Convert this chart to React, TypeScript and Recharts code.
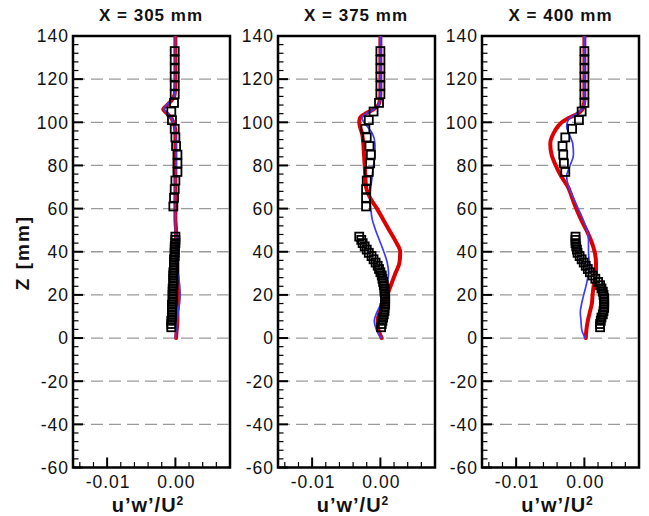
import { ScatterChart, Scatter, XAxis, YAxis, ReferenceLine, ReferenceArea } from "recharts";

// model profiles, sampled at the same heights (mm)
const lineZ = [0, 4, 8, 12, 16, 20, 25, 30, 35, 40, 45, 50, 55, 60, 65, 70, 75, 80, 85, 90, 95, 98, 100, 102, 104, 106, 108, 110, 113, 120, 130, 140];

const red305 = [0.0001, 0.0002, 0.0003, 0.0003, 0.0004, 0.0004, 0.0004, 0.0003, 0.0003, 0.0002, 0.0001, 0.0001,
  0.0, 0.0, 0.0, 0.0, 0.0, 0.0, 0.0, 0.0, 0.0,
  -0.0001, -0.0003, -0.0006, -0.0012, -0.0018, -0.0012, -0.0006, -0.0001, 0.0, 0.0, 0.0];
const blue305 = [0.0, 0.0001, 0.0003, 0.0004, 0.0006, 0.0007, 0.0006, 0.0004, 0.0002, 0.0001, 0.0001, 0.0,
  0.0, 0.0, 0.0, 0.0, 0.0, 0.0001, 0.0001, 0.0001, 0.0,
  -0.0001, -0.0003, -0.0006, -0.0011, -0.0017, -0.0013, -0.0007, -0.0001, 0.0, 0.0, 0.0];

const red375 = [0.0002, -0.0003, -0.0004, -0.0001, 0.0005, 0.001, 0.0016, 0.0022, 0.0028, 0.0029, 0.0022, 0.0013,
  0.0004, -0.0005, -0.0015, -0.0021, -0.0022, -0.0023, -0.0024, -0.0025, -0.0027,
  -0.003, -0.0031, -0.003, -0.0022, -0.001, -0.0003, -0.0001, 0.0, 0.0, 0.0, 0.0];
const blue375 = [0.0001, -0.0006, -0.0009, -0.0005, 0.0001, 0.0006, 0.001, 0.0012, 0.001, 0.0005, -0.0001, -0.0007,
  -0.0012, -0.0014, -0.0015, -0.0014, -0.0012, -0.001, -0.0008, -0.0008, -0.0012,
  -0.0019, -0.0024, -0.0027, -0.0021, -0.001, -0.0003, -0.0001, 0.0, 0.0, 0.0, 0.0];

const red400 = [0.0002, 0.0003, 0.0005, 0.0008, 0.0011, 0.0012, 0.0014, 0.0017, 0.0017, 0.0015, 0.001, 0.0003,
  -0.0005, -0.0012, -0.0018, -0.0024, -0.0034, -0.0042, -0.0048, -0.005, -0.0045,
  -0.0039, -0.0033, -0.0023, -0.001, -0.0003, -0.0001, 0.0, 0.0, 0.0, 0.0, 0.0];
const blue400 = [0.0001, -0.0004, -0.0005, -0.0006, -0.0004, -0.0001, 0.0003, 0.0006, 0.0007, 0.0006, 0.0006, 0.0004,
  -0.0002, -0.0009, -0.0016, -0.0023, -0.0026, -0.0021, -0.0016, -0.0017, -0.0023,
  -0.0026, -0.0025, -0.0021, -0.0011, -0.0004, -0.0001, 0.0, 0.0, 0.0, 0.0, 0.0];

// measurements (squares)
const upperZ = [61, 65, 69, 73, 77, 81, 85, 89, 93, 97, 101, 105, 109, 113, 117, 121, 125, 129, 133];
const upperZ400 = [77, 81, 85, 89, 93, 97, 101, 105, 109, 113, 117, 121, 125, 129, 133];
const lowerZ = [5, 6.5, 8, 9.5, 11, 12.5, 14, 15.5, 17, 18.5, 20, 21.5, 23, 24.5, 26, 27.5, 29, 30.5, 32, 33.5, 35, 36.5, 38, 39.5, 41, 42.5, 44, 45.5, 47];

const exp305Upper = [-0.0003, -0.0002, -0.0001, 0.0, 0.0003, 0.0003, 0.0003, 0.0001, 0.0, -0.0001, -0.0005, -0.0006, -0.0002, -0.0001, -0.0001, -0.0001, -0.0001, -0.0001, -0.0001];
const exp375Upper = [-0.0021, -0.0021, -0.0021, -0.002, -0.0017, -0.0015, -0.0014, -0.0016, -0.002, -0.0022, -0.0017, -0.001, -0.0002, 0.0, 0.0, 0.0, 0.0, 0.0, 0.0];
const exp400Upper = [-0.0028, -0.003, -0.0031, -0.0032, -0.0028, -0.0018, -0.0008, -0.0004, 0.0, 0.0, 0.0, 0.0, 0.0, 0.0, 0.0];

const exp305Lower = [-0.0006, -0.0006, -0.0006, -0.0005, -0.0005, -0.0005, -0.0005, -0.0005, -0.0004, -0.0004, -0.0004, -0.0004, -0.0004, -0.0003, -0.0003,
  -0.0003, -0.0003, -0.0003, -0.0002, -0.0002, -0.0002, -0.0002, -0.0001, -0.0001, -0.0001, -0.0001, 0.0, 0.0, 0.0];
const exp375Lower = [0.0001, 0.0002, 0.0003, 0.0004, 0.0005, 0.0006, 0.0006, 0.0007, 0.0007, 0.0007, 0.0007, 0.0006, 0.0006, 0.0005, 0.0004,
  0.0003, 0.0002, 0.0, -0.0002, -0.0004, -0.0007, -0.001, -0.0013, -0.0017, -0.002, -0.0023, -0.0026, -0.0028, -0.0031];
const exp400Lower = [0.0023, 0.0023, 0.0024, 0.0025, 0.0027, 0.0028, 0.0029, 0.0029, 0.0029, 0.0029, 0.0028, 0.0027, 0.0025, 0.0023, 0.002,
  0.0016, 0.0012, 0.0008, 0.0005, 0.0002, -0.0001, -0.0004, -0.0007, -0.001, -0.0011, -0.0012, -0.0013, -0.0013, -0.0013];

const titles = ["X = 305 mm", "X = 375 mm", "X = 400 mm"];
const gridY = [-40, -20, 0, 20, 40, 60, 80, 100, 120];
const xLabels: Record<number, string> = { [-10]: "-0.01", 0: "0.00" };

const yTicks = Array.from({ length: 51 }, (_, i) => -60 + i * 4);
const xTicks = Array.from({ length: 11 }, (_, i) => (-14 + i * 2) / 1000);

const X_DOMAIN = [-0.015, 0.008];
const Y_DOMAIN = [-60, 140];
const AXIS_W = 70;
const PLOT_W = 157;
const PLOT_TOP = 36;
const PLOT_BOTTOM = 467.5;
const H = 516;
const FONT = "'Liberation Sans', Arial, Helvetica, sans-serif";
const RED = "#dd0000";
const BLUE = "#3c3cff";

const pts = (zs: number[], xs: number[]) => zs.map((z, i) => ({ x: xs[i], z }));

const panels = [
  { left: 72.5, red: red305, blue: blue305, exp: [...pts(lowerZ, exp305Lower), ...pts(upperZ, exp305Upper)] },
  { left: 277.5, red: red375, blue: blue375, exp: [...pts(lowerZ, exp375Lower), ...pts(upperZ, exp375Upper)] },
  { left: 482, red: red400, blue: blue400, exp: [...pts(lowerZ, exp400Lower), ...pts(upperZ400, exp400Upper)] },
];

function YTick(props: any) {
  const { x, y, payload } = props;
  const v = payload.value;
  const major = v % 20 === 0;
  const edge = x + 4;
  return (
    <g>
      <line x1={edge} x2={edge + (major ? 10 : 5.5)} y1={y} y2={y} stroke="#000" strokeWidth={major ? 2 : 1.2} />
      {major && (
        <text x={x} y={y} dy="0.36em" textAnchor="end" fontFamily={FONT} fontSize={17.5} letterSpacing={1} fill="#111">
          {v}
        </text>
      )}
    </g>
  );
}

function XTick(props: any) {
  const { x, y, payload } = props;
  const k = Math.round(payload.value * 1000);
  const major = k % 10 === 0;
  const edge = y - 4;
  return (
    <g>
      <line x1={x} x2={x} y1={edge} y2={edge - (major ? 10 : 5.5)} stroke="#000" strokeWidth={major ? 2 : 1.2} />
      {major && (
        <text x={x + 1} y={edge + 20.5} textAnchor="middle" fontFamily={FONT} fontSize={17.5} letterSpacing={1} fill="#111">
          {xLabels[k]}
        </text>
      )}
    </g>
  );
}

const noDot = () => <g />;
const square = (p: any) => (
  <rect x={p.cx - 4} y={p.cy - 4} width={8} height={8} fill="none" stroke="#000" strokeWidth={1.8} />
);

function Panel({ left, red, blue, exp }: any) {
  return (
    <div style={{ position: "absolute", left: left - AXIS_W, top: 0 }}>
      <ScatterChart
        width={AXIS_W + PLOT_W + 6}
        height={H}
        margin={{ top: PLOT_TOP, right: 6, bottom: H - PLOT_BOTTOM - 30, left: 0 }}
      >
        <XAxis
          type="number"
          dataKey="x"
          domain={X_DOMAIN}
          ticks={xTicks}
          interval={0}
          allowDataOverflow
          height={30}
          tickSize={0}
          tickMargin={4}
          axisLine={false}
          tickLine={false}
          tick={(p: any) => <XTick {...p} />}
        />
        <YAxis
          type="number"
          dataKey="z"
          domain={Y_DOMAIN}
          ticks={yTicks}
          interval={0}
          allowDataOverflow
          width={AXIS_W}
          tickSize={0}
          tickMargin={4}
          axisLine={false}
          tickLine={false}
          tick={(p: any) => <YTick {...p} />}
        />
        {gridY.map((v) => (
          <ReferenceLine key={v} y={v} stroke="#9a9a9a" strokeWidth={1.3} strokeDasharray="12 6" />
        ))}
        <Scatter
          data={pts(lineZ, red)}
          shape={noDot}
          line={{ stroke: RED, strokeWidth: 4, strokeLinejoin: "round", strokeLinecap: "round" }}
          lineJointType="monotoneY"
          isAnimationActive={false}
        />
        <Scatter
          data={pts(lineZ, blue)}
          shape={noDot}
          line={{ stroke: BLUE, strokeWidth: 1.7, strokeLinejoin: "round", strokeLinecap: "round" }}
          lineJointType="monotoneY"
          isAnimationActive={false}
        />
        <Scatter data={exp} shape={square} isAnimationActive={false} />
        <ReferenceArea
          x1={X_DOMAIN[0]}
          x2={X_DOMAIN[1]}
          y1={Y_DOMAIN[0]}
          y2={Y_DOMAIN[1]}
          fill="none"
          stroke="#000"
          strokeWidth={2.5}
        />
      </ScatterChart>
    </div>
  );
}

export default function App() {
  return (
    <div style={{ position: "absolute", left: 0, top: 0, width: 649, height: H, background: "#fff", overflow: "hidden" }}>
      {panels.map((p, i) => (
        <Panel key={i} {...p} />
      ))}
      <svg width={649} height={H} style={{ position: "absolute", left: 0, top: 0, pointerEvents: "none" }}>
        {panels.map((p, i) => (
          <g key={i} fontFamily={FONT} fontWeight="bold" fill="#111" letterSpacing={1}>
            <text x={p.left + PLOT_W / 2} y={20.5} textAnchor="middle" fontSize={17}>
              {titles[i]}
            </text>
            <text x={p.left + PLOT_W / 2 - 3} y={512} textAnchor="middle" fontSize={20}>
              <tspan>u’w’/U</tspan>
              <tspan fontSize={12} dy={-7}>2</tspan>
            </text>
          </g>
        ))}
        <text
          x={28.5}
          y={252.5}
          transform="rotate(-90 28.5 252.5)"
          textAnchor="middle"
          fontFamily={FONT}
          fontWeight="bold"
          fontSize={19}
          letterSpacing={2}
          fill="#111"
        >
          Z [mm]
        </text>
      </svg>
    </div>
  );
}
